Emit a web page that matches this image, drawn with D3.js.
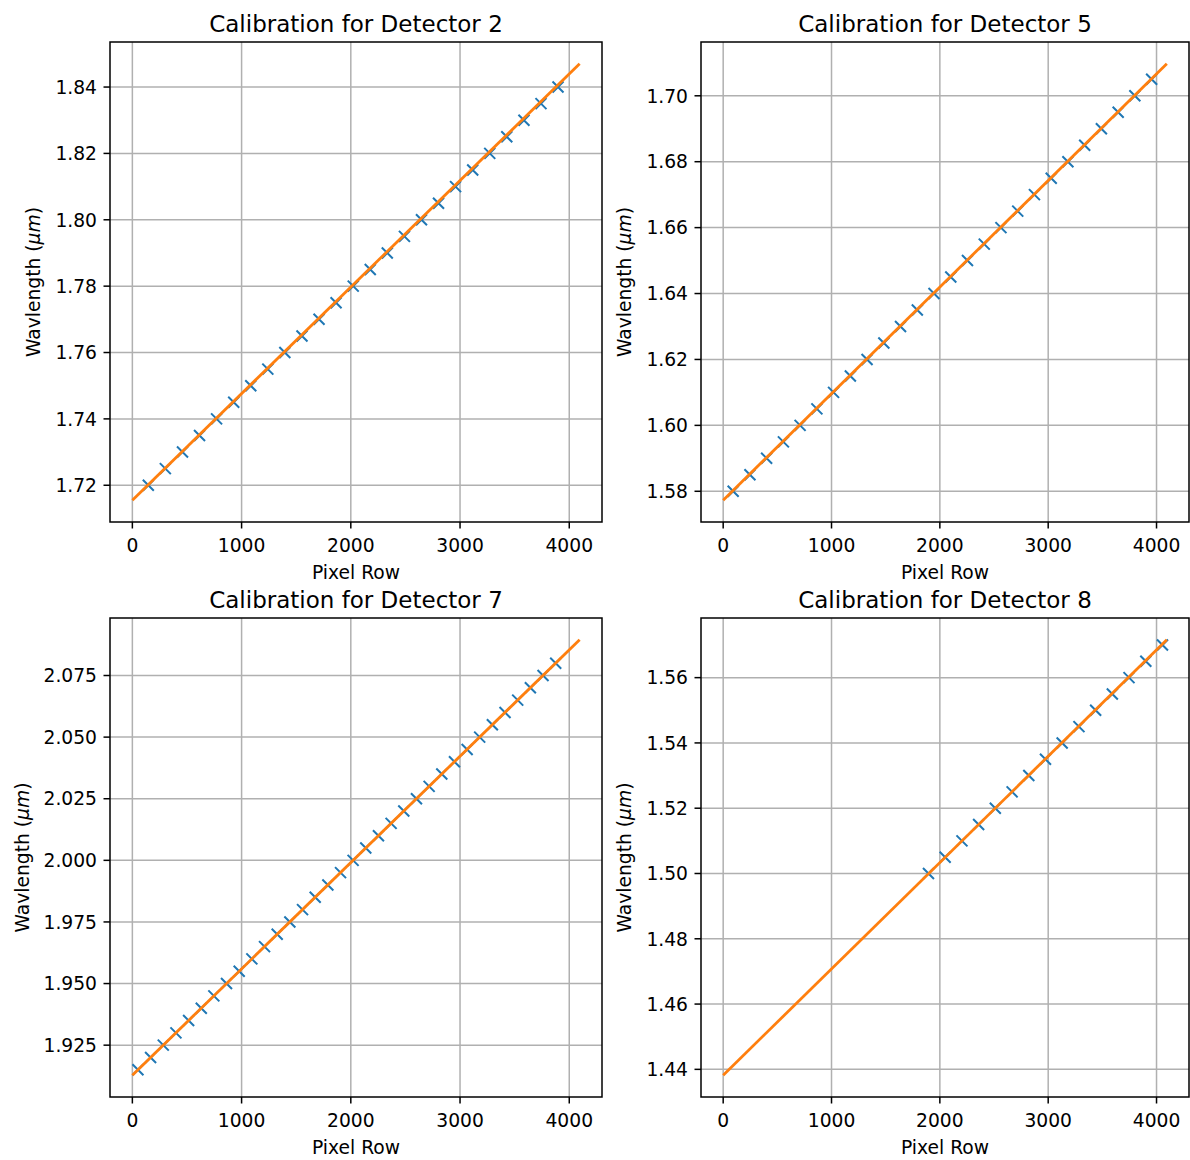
<!DOCTYPE html>
<html>
<head>
<meta charset="utf-8">
<script src="https://cdn.jsdelivr.net/npm/d3@7"></script>
<style>
  body { margin: 0; background: #fff; }
  svg text { font-family: "DejaVu Sans", sans-serif; fill: #000; }
</style>
</head>
<body>
<div id="chart"></div>
<script>
// detectors shown, one panel each
var detectors = [2, 5, 7, 8];

// fitted line: pixel row ends and wavelength at those ends
var fitPixels = [0, 4095];
var fitDet2 = [1.7155, 1.8470];
var fitDet5 = [1.5773, 1.7097];
var fitDet7 = [1.9128, 2.0895];
var fitDet8 = [1.4382, 1.5716];

// calibration points (pixel row, wavelength in um)
var pixDet2 = [146, 302, 459, 615, 771, 928, 1084, 1240, 1396, 1553, 1709, 1865, 2022,
    2178, 2334, 2491, 2647, 2803, 2959, 3116, 3272, 3428, 3585, 3741, 3897];
var waveDet2 = [1.720, 1.725, 1.730, 1.735, 1.740, 1.745, 1.750, 1.755, 1.760, 1.765,
    1.770, 1.775, 1.780, 1.785, 1.790, 1.795, 1.800, 1.805, 1.810, 1.815, 1.820, 1.825,
    1.830, 1.835, 1.840];

var pixDet5 = [92, 247, 401, 556, 710, 865, 1019, 1174, 1328, 1483, 1637, 1792, 1946,
    2101, 2255, 2410, 2564, 2719, 2873, 3028, 3182, 3337, 3491, 3646, 3800, 3955];
var waveDet5 = [1.580, 1.585, 1.590, 1.595, 1.600, 1.605, 1.610, 1.615, 1.620, 1.625,
    1.630, 1.635, 1.640, 1.645, 1.650, 1.655, 1.660, 1.665, 1.670, 1.675, 1.680, 1.685,
    1.690, 1.695, 1.700, 1.705];

var pixDet7 = [51, 167, 283, 399, 515, 631, 746, 862, 978, 1094, 1210, 1326, 1442, 1558,
    1674, 1790, 1906, 2021, 2137, 2253, 2369, 2485, 2601, 2717, 2833, 2949, 3065, 3180,
    3296, 3412, 3528, 3644, 3760, 3876];
var waveDet7 = [1.915, 1.920, 1.925, 1.930, 1.935, 1.940, 1.945, 1.950, 1.955, 1.960,
    1.965, 1.970, 1.975, 1.980, 1.985, 1.990, 1.995, 2.000, 2.005, 2.010, 2.015, 2.020,
    2.025, 2.030, 2.035, 2.040, 2.045, 2.050, 2.055, 2.060, 2.065, 2.070, 2.075, 2.080];

var pixDet8 = [1895, 2049, 2204, 2358, 2512, 2667, 2821, 2975, 3129, 3284, 3438, 3592,
    3746, 3901, 4055];
var waveDet8 = [1.500, 1.505, 1.510, 1.515, 1.520, 1.525, 1.530, 1.535, 1.540, 1.545,
    1.550, 1.555, 1.560, 1.565, 1.570];

// tick labels
var xTicks = [0, 1000, 2000, 3000, 4000];
var yTicksDet2 = [1.72, 1.74, 1.76, 1.78, 1.80, 1.82, 1.84];
var yTicksDet5 = [1.58, 1.60, 1.62, 1.64, 1.66, 1.68, 1.70];
var yTicksDet7 = [1.925, 1.950, 1.975, 2.000, 2.025, 2.050, 2.075];
var yTicksDet8 = [1.44, 1.46, 1.48, 1.50, 1.52, 1.54, 1.56];

var panels = [
    { det: detectors[0], fit: fitDet2, px: pixDet2, wl: waveDet2, ticks: yTicksDet2, dec: 2,
      box: { left: 110, right: 602, top: 42, bottom: 522 } },
    { det: detectors[1], fit: fitDet5, px: pixDet5, wl: waveDet5, ticks: yTicksDet5, dec: 2,
      box: { left: 701, right: 1189, top: 42, bottom: 522 } },
    { det: detectors[2], fit: fitDet7, px: pixDet7, wl: waveDet7, ticks: yTicksDet7, dec: 3,
      box: { left: 110, right: 602, top: 618, bottom: 1097 } },
    { det: detectors[3], fit: fitDet8, px: pixDet8, wl: waveDet8, ticks: yTicksDet8, dec: 2,
      box: { left: 701, right: 1189, top: 618, bottom: 1097 } }
];

var W = 1190, H = 1160;
var fontTick = 18.7, fontTitle = 23;
var tickLen = 6.5;

var svg = d3.select("#chart").append("svg")
    .attr("width", W)
    .attr("height", H);

// matplotlib-style 5% padding around the data
function padded(lo, hi) {
    var m = (hi - lo) * 0.05;
    return [lo - m, hi + m];
}

panels.forEach(function(p) {
    var b = p.box;
    var w = b.right - b.left, h = b.bottom - b.top;

    var x = d3.scaleLinear()
        .domain(padded(fitPixels[0], fitPixels[1]))
        .range([0, w]);
    var y = d3.scaleLinear()
        .domain(padded(Math.min(p.fit[0], d3.min(p.wl)), Math.max(p.fit[1], d3.max(p.wl))))
        .range([h, 0]);

    var g = svg.append("g")
        .attr("transform", "translate(" + b.left + "," + b.top + ")");

    // grid
    g.append("g").selectAll("line.gx")
        .data(xTicks)
        .enter().append("line")
        .attr("x1", function(d) { return x(d); })
        .attr("x2", function(d) { return x(d); })
        .attr("y1", 0).attr("y2", h)
        .attr("stroke", "#b0b0b0").attr("stroke-width", 1.5);
    g.append("g").selectAll("line.gy")
        .data(p.ticks)
        .enter().append("line")
        .attr("y1", function(d) { return y(d); })
        .attr("y2", function(d) { return y(d); })
        .attr("x1", 0).attr("x2", w)
        .attr("stroke", "#b0b0b0").attr("stroke-width", 1.5);

    // calibration points as "x" markers
    var pts = p.px.map(function(v, i) { return [v, p.wl[i]]; });
    var s = 5.5;
    g.append("g").selectAll("path")
        .data(pts)
        .enter().append("path")
        .attr("d", function(d) {
            var cx = x(d[0]), cy = y(d[1]);
            return "M" + (cx - s) + "," + (cy - s) + "L" + (cx + s) + "," + (cy + s) +
                   "M" + (cx - s) + "," + (cy + s) + "L" + (cx + s) + "," + (cy - s);
        })
        .attr("stroke", "#1f77b4")
        .attr("stroke-width", 2)
        .attr("fill", "none");

    // fitted line
    var line = d3.line()
        .x(function(d) { return x(d[0]); })
        .y(function(d) { return y(d[1]); });
    g.append("path")
        .datum([[fitPixels[0], p.fit[0]], [fitPixels[1], p.fit[1]]])
        .attr("d", line)
        .attr("stroke", "#ff7f0e")
        .attr("stroke-width", 2.8)
        .attr("fill", "none");

    // spines
    g.append("rect")
        .attr("width", w).attr("height", h)
        .attr("fill", "none")
        .attr("stroke", "#000")
        .attr("stroke-width", 1.5);

    // x ticks
    var xt = g.append("g").selectAll("g")
        .data(xTicks)
        .enter().append("g")
        .attr("transform", function(d) { return "translate(" + x(d) + "," + h + ")"; });
    xt.append("line").attr("y2", tickLen).attr("stroke", "#000").attr("stroke-width", 1.5);
    xt.append("text")
        .attr("y", 30)
        .attr("text-anchor", "middle")
        .attr("font-size", fontTick)
        .text(function(d) { return d; });

    // y ticks
    var yAxis = g.append("g");
    var yt = yAxis.selectAll("g")
        .data(p.ticks)
        .enter().append("g")
        .attr("transform", function(d) { return "translate(0," + y(d) + ")"; });
    yt.append("line").attr("x2", -tickLen).attr("stroke", "#000").attr("stroke-width", 1.5);
    yt.append("text")
        .attr("x", -13)
        .attr("dy", "0.36em")
        .attr("text-anchor", "end")
        .attr("font-size", fontTick)
        .text(function(d) { return d.toFixed(p.dec); });

    var bb = yAxis.node().getBBox();

    // axis labels
    g.append("text")
        .attr("x", w / 2)
        .attr("y", h + 57)
        .attr("text-anchor", "middle")
        .attr("font-size", fontTick)
        .text("Pixel Row");

    var yl = g.append("text")
        .attr("transform", "translate(" + (bb.x - 15) + "," + (h / 2) + ") rotate(-90)")
        .attr("text-anchor", "middle")
        .attr("font-size", fontTick);
    yl.append("tspan").text("Wavlength (");
    yl.append("tspan").attr("font-style", "italic").text("\u03bcm");
    yl.append("tspan").text(")");

    // title
    g.append("text")
        .attr("x", w / 2)
        .attr("y", -10.5)
        .attr("text-anchor", "middle")
        .attr("font-size", fontTitle)
        .text("Calibration for Detector " + p.det);
});
</script>
</body>
</html>
